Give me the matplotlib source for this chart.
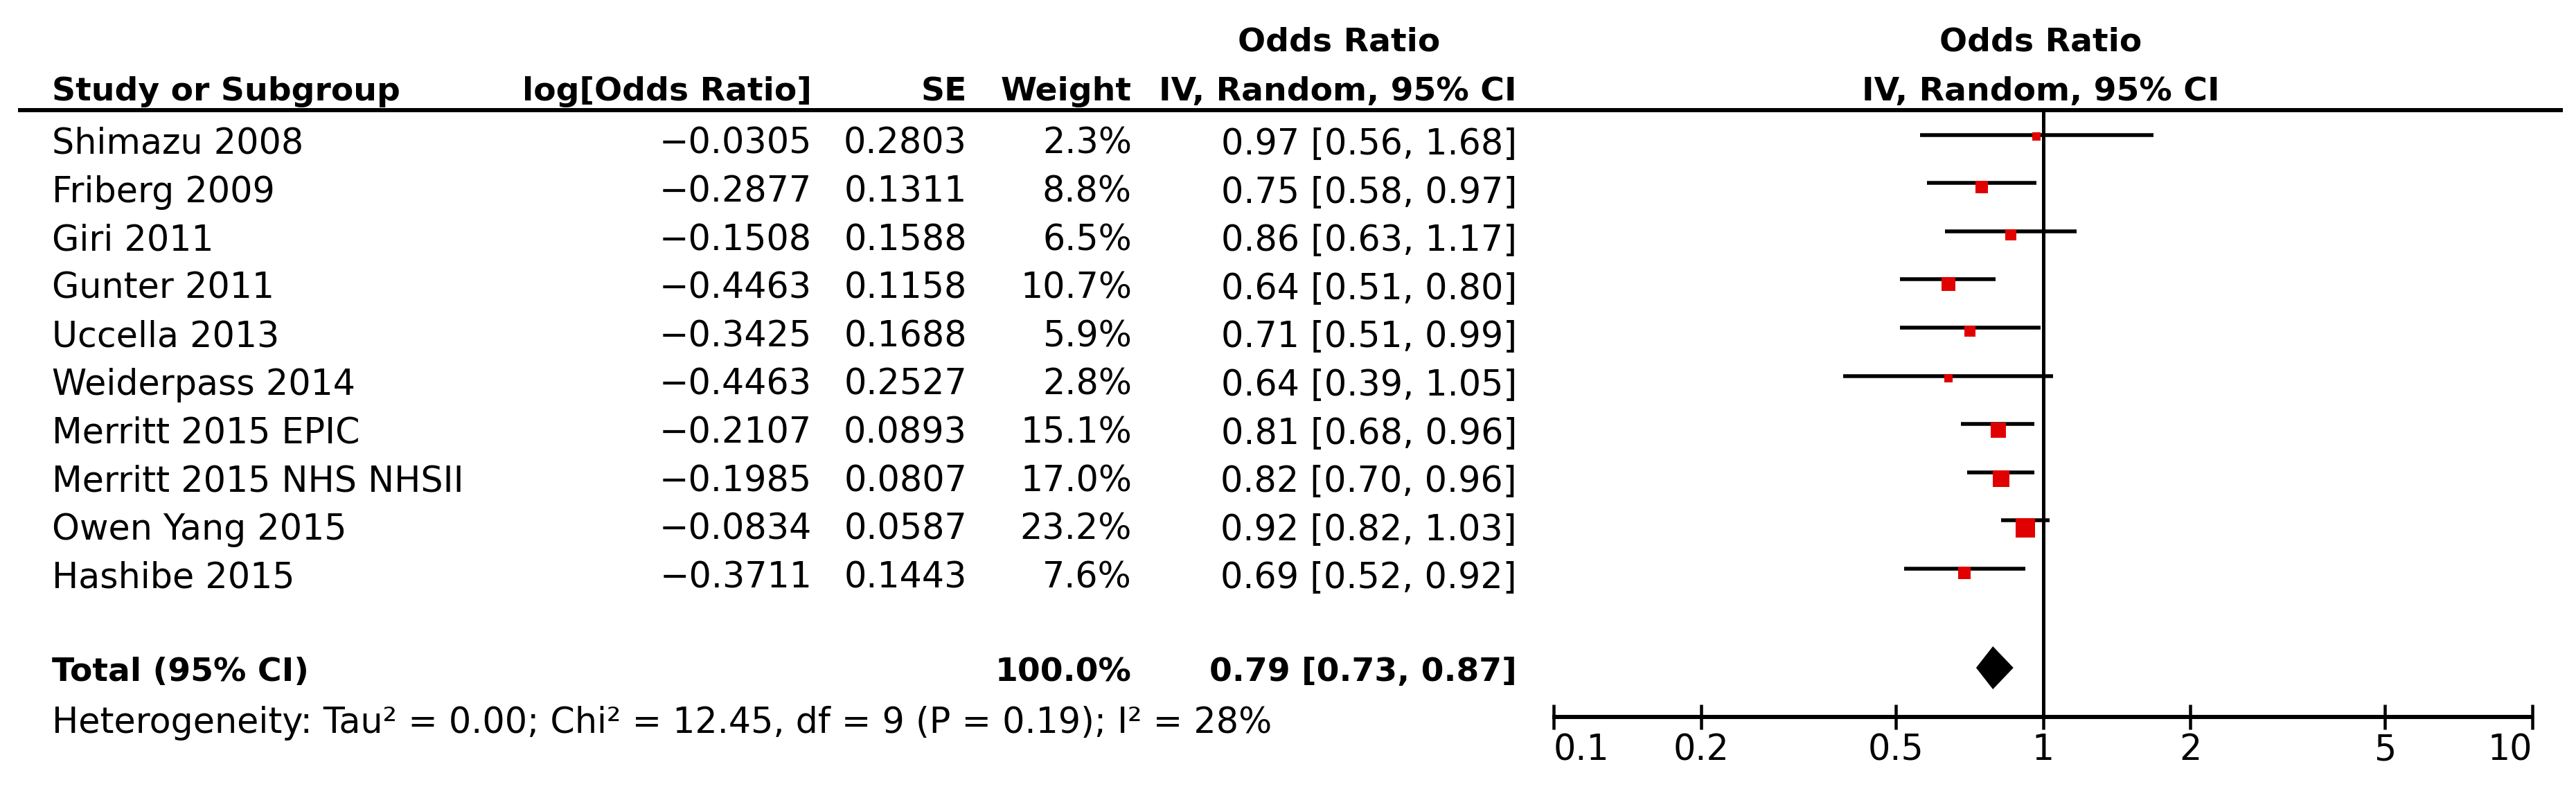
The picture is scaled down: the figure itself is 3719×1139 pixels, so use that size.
import matplotlib
matplotlib.use("Agg")
import matplotlib.pyplot as plt
import numpy as np

# ---------------- data ----------------
studies = ["Shimazu 2008", "Friberg 2009", "Giri 2011", "Gunter 2011", "Uccella 2013",
           "Weiderpass 2014", "Merritt 2015 EPIC", "Merritt 2015 NHS NHSII",
           "Owen Yang 2015", "Hashibe 2015"]
log_or = [-0.0305, -0.2877, -0.1508, -0.4463, -0.3425, -0.4463, -0.2107, -0.1985, -0.0834, -0.3711]
se = [0.2803, 0.1311, 0.1588, 0.1158, 0.1688, 0.2527, 0.0893, 0.0807, 0.0587, 0.1443]
weight = [2.3, 8.8, 6.5, 10.7, 5.9, 2.8, 15.1, 17.0, 23.2, 7.6]
or_est = [0.97, 0.75, 0.86, 0.64, 0.71, 0.64, 0.81, 0.82, 0.92, 0.69]
ci_lo = [0.56, 0.58, 0.63, 0.51, 0.51, 0.39, 0.68, 0.70, 0.82, 0.52]
ci_hi = [1.68, 0.97, 1.17, 0.80, 0.99, 1.05, 0.96, 0.96, 1.03, 0.92]
total_weight = 100.0
total_or = 0.79
total_lo = 0.73
total_hi = 0.87
heterogeneity = "Heterogeneity: Tau\u00b2 = 0.00; Chi\u00b2 = 12.45, df = 9 (P = 0.19); I\u00b2 = 28%"
tick_values = [0.1, 0.2, 0.5, 1, 2, 5, 10]
tick_labels = ["0.1", "0.2", "0.5", "1", "2", "5", "10"]

# ---------------- layout ----------------
W, H = 3719, 1139
plt.rcParams['font.family'] = ['DejaVu Sans']
FS = 36.5      # regular text size (pt)
FSB = 34       # bold text size (pt)
PX = 72.0 / 100.0  # points per pixel

fig = plt.figure(figsize=(W / 100, H / 100), dpi=100)
fig.patch.set_facecolor("white")

ax = fig.add_axes([0, 0, 1, 1])
ax.set_xlim(0, W)
ax.set_ylim(H, 0)
ax.axis("off")

x_lo_px, x_hi_px = 2243, 3656
fx = fig.add_axes([x_lo_px / W, 0, (x_hi_px - x_lo_px) / W, 1])
fx.set_xscale("log")
fx.set_xlim(0.1, 10)
fx.set_ylim(H, 0)
fx.axis("off")
fx.patch.set_alpha(0)

# column positions
x_name = 75
x_log = 1172
x_se = 1396
x_wt = 1634
x_ci = 2190
x_ci_center = 1933
x_plot_center = 2946

hdr1_base = 73
hdr2_base = 145
row_base0 = 222
row_step = 69.6
total_base = 983
het_base = 1058
axis_y = 1035
tick_label_base = 1097

bold = dict(fontsize=FSB, fontweight="bold", va="baseline")
reg = dict(fontsize=FS, va="baseline")


def fmt_signed(v, nd):
    return f"{v:.{nd}f}".replace("-", "\u2212")


# headers
ax.text(x_ci_center, hdr1_base, "Odds Ratio", ha="center", **bold)
ax.text(x_plot_center, hdr1_base, "Odds Ratio", ha="center", **bold)
ax.text(x_name, hdr2_base, "Study or Subgroup", ha="left", **bold)
ax.text(x_log, hdr2_base, "log[Odds Ratio]", ha="right", **bold)
ax.text(x_se, hdr2_base, "SE", ha="right", **bold)
ax.text(x_wt, hdr2_base, "Weight", ha="right", **bold)
ax.text(x_ci, hdr2_base, "IV, Random, 95% CI", ha="right", **bold)
ax.text(x_plot_center, hdr2_base, "IV, Random, 95% CI", ha="center", **bold)

# thick header rule
ax.plot([26, 3700], [159, 159], color="black", lw=6 * PX, solid_capstyle="butt")

# rows
for i, name in enumerate(studies):
    yb = row_base0 + row_step * i
    ax.text(x_name, yb, name, ha="left", **reg)
    ax.text(x_log, yb, fmt_signed(log_or[i], 4), ha="right", **reg)
    ax.text(x_se, yb, f"{se[i]:.4f}", ha="right", **reg)
    ax.text(x_wt, yb, f"{weight[i]:.1f}%", ha="right", **reg)
    ax.text(x_ci, yb, f"{or_est[i]:.2f} [{ci_lo[i]:.2f}, {ci_hi[i]:.2f}]", ha="right", **reg)

    line_y = yb - 27.5
    lw_px = 5.5
    fx.plot([ci_lo[i], ci_hi[i]], [line_y, line_y], color="black", lw=lw_px * PX,
            solid_capstyle="butt", zorder=3)
    side = 4 + 4.8 * np.sqrt(weight[i])
    sq_y = line_y - lw_px / 2 + side / 2
    fx.plot([or_est[i]], [sq_y], marker="s", markersize=side * PX, color="#e00000",
            markeredgewidth=0, linestyle="none", zorder=4)

# total row
ax.text(x_name, total_base, "Total (95% CI)", ha="left", **bold)
ax.text(x_wt, total_base, f"{total_weight:.1f}%", ha="right", **bold)
ax.text(x_ci, total_base, f"{total_or:.2f} [{total_lo:.2f}, {total_hi:.2f}]", ha="right", **bold)
dy = total_base - 19
fx.fill([total_lo, total_or, total_hi, total_or], [dy, dy - 31, dy, dy + 31],
        color="black", lw=0, zorder=4)

ax.text(x_name, het_base, heterogeneity, ha="left", **reg)

# vertical line of no effect
fx.plot([1, 1], [159, axis_y], color="black", lw=5 * PX, solid_capstyle="butt", zorder=2)

# axis
fx.plot([0.0995, 10.05], [axis_y, axis_y], color="black", lw=6 * PX,
        solid_capstyle="butt", clip_on=False, zorder=2)
for v, lab in zip(tick_values, tick_labels):
    fx.plot([v, v], [axis_y - 18, axis_y + 18], color="black", lw=4.5 * PX,
            solid_capstyle="butt", clip_on=False, zorder=2)
    if v == tick_values[0]:
        ha = "left"
    elif v == tick_values[-1]:
        ha = "right"
    else:
        ha = "center"
    fx.text(v, tick_label_base, lab, ha=ha, **reg)

fig.savefig("out.png", dpi=100, facecolor="white")
